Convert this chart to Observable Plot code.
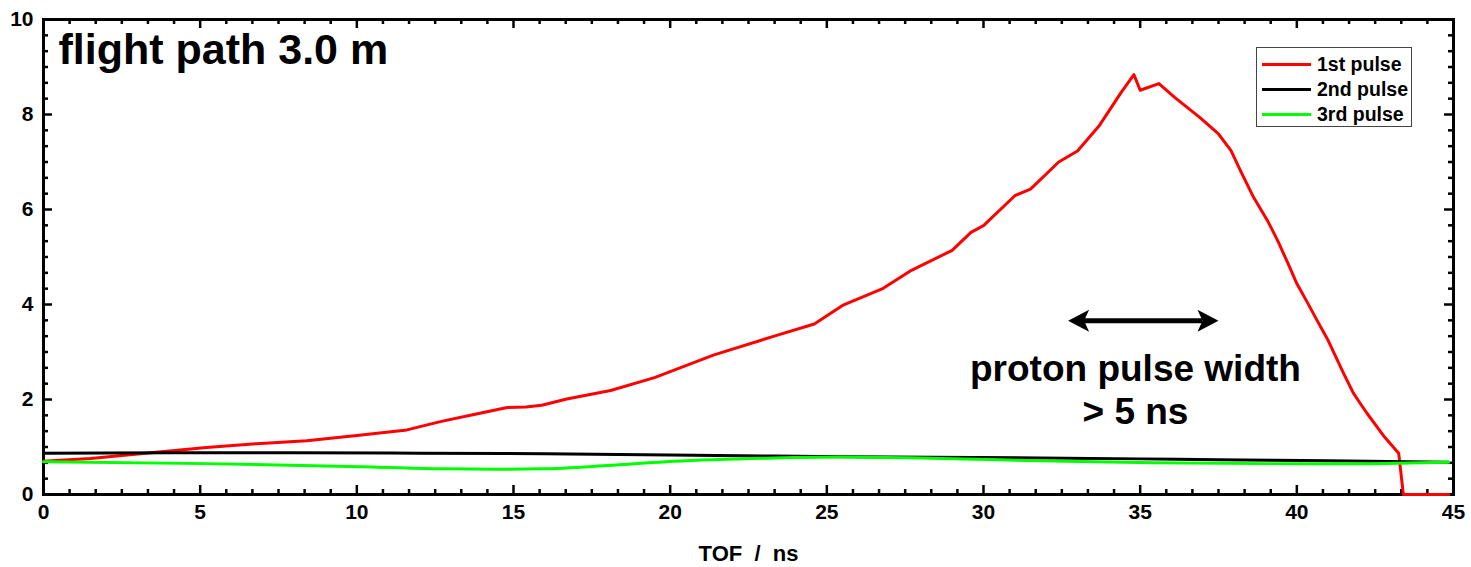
<!DOCTYPE html>
<html>
<head>
<meta charset="utf-8">
<script src="https://cdn.jsdelivr.net/npm/d3@7"></script>
<script src="https://cdn.jsdelivr.net/npm/@observablehq/plot@0.6"></script>
<style>
  body { margin: 0; background: #fff; }
  #wrap { position: relative; width: 1471px; height: 567px; font-family: "Liberation Sans", Arial, sans-serif; }
  #legend { position: absolute; left: 1256px; top: 47px; width: 156px; height: 80px; border: 1px solid #444; background: #fff; box-sizing: border-box; }
  .row { position: absolute; left: 0; height: 24px; display: flex; align-items: center; }
  .sw { width: 49px; height: 3px; margin-left: 5px; margin-right: 6px; }
  .lab { font-weight: bold; font-size: 19.5px; color: #000; white-space: nowrap; }
</style>
</head>
<body>
<div id="wrap"></div>
<script>
// ---- data ----
const seriesNames = ["1st pulse", "2nd pulse", "3rd pulse"];
const seriesColors = ["#ff0000", "#000000", "#00ff00"];

const t1 = [0, 1.5, 3.6, 5.2, 6.8, 8.4, 10.0, 11.6, 12.7, 13.7, 14.8, 15.4, 15.9, 16.7, 18.1, 19.5, 21.4, 23.4, 24.6, 25.5, 26.8, 27.7, 29.0, 29.6, 30.0, 31.0, 31.5, 32.4, 33.0, 33.7, 34.4, 34.8, 35.0, 35.6, 36.1, 36.9, 37.5, 37.9, 38.2, 38.6, 39.06, 39.4, 39.7, 40.0, 40.33, 40.65, 40.97, 41.2, 41.5, 41.8, 42.03, 42.25, 42.8, 43.25, 43.4, 44.85];
const v1 = [0.70, 0.76, 0.89, 0.99, 1.07, 1.13, 1.24, 1.36, 1.54, 1.68, 1.83, 1.84, 1.88, 2.01, 2.19, 2.46, 2.94, 3.35, 3.59, 3.98, 4.34, 4.72, 5.14, 5.52, 5.66, 6.29, 6.43, 7.00, 7.23, 7.77, 8.47, 8.84, 8.51, 8.65, 8.36, 7.94, 7.59, 7.24, 6.82, 6.28, 5.77, 5.33, 4.89, 4.44, 4.05, 3.66, 3.28, 2.96, 2.54, 2.14, 1.91, 1.70, 1.21, 0.87, 0, 0];

const t2 = [0, 4, 8, 12, 16, 20, 23.3, 27, 31.8, 35, 37.5, 41, 44.85];
const v2 = [0.87, 0.88, 0.88, 0.87, 0.86, 0.83, 0.81, 0.79, 0.77, 0.75, 0.73, 0.71, 0.68];

const t3 = [0, 5.2, 10.5, 12.7, 14.5, 15.9, 18, 20.1, 23.3, 25.4, 28.6, 31.8, 35.4, 39, 42, 44.85];
const v3 = [0.69, 0.65, 0.58, 0.54, 0.53, 0.54, 0.61, 0.70, 0.77, 0.79, 0.76, 0.71, 0.67, 0.65, 0.65, 0.68];

const xMajor = [0, 5, 10, 15, 20, 25, 30, 35, 40, 45];
const yMajor = [0, 2, 4, 6, 8, 10];
const xMinor = d3.range(0, 55).map(k => k * 5 / 6).filter((d, k) => k % 6 !== 0);
const yMinor = d3.range(0, 31).map(k => k / 3).filter((d, k) => k % 6 !== 0);

const titleText = "flight path 3.0 m";
const xLabel = "TOF \u00a0/\u00a0 ns";
const arrowX = [32.7, 37.5];
const arrowY = 3.66;
const noteLines = ["proton pulse width", "> 5 ns"];
const noteX = 34.85;
const noteY = [2.64, 1.74];

// ---- build ----
const mk = (t, v) => t.map((x, i) => ({x, y: v[i]}));
const d1 = mk(t1, v1), d2 = mk(t2, v2), d3s = mk(t3, v3);

const W = 1471, H = 567, mT = 19, mR = 18, mB = 73, mL = 43;
const innerW = W - mL - mR, innerH = H - mT - mB;
const FONT = "'Liberation Sans', Arial, sans-serif";

const headRight = { draw(ctx) { ctx.moveTo(0, 0); ctx.lineTo(-21, -11); ctx.lineTo(-16, 0); ctx.lineTo(-21, 11); ctx.closePath(); } };
const headLeft  = { draw(ctx) { ctx.moveTo(0, 0); ctx.lineTo(21, -11); ctx.lineTo(16, 0); ctx.lineTo(21, 11); ctx.closePath(); } };

const chart = Plot.plot({
  width: W, height: H,
  marginTop: mT, marginRight: mR, marginBottom: mB, marginLeft: mL,
  style: { fontFamily: FONT, background: "#fff" },
  x: { domain: [0, 45] },
  y: { domain: [0, 10] },
  marks: [
    // ticks (inward, all four sides)
    Plot.tickX(xMajor, { x: d => d, insetTop: innerH - 9, strokeWidth: 2.5 }),
    Plot.tickX(xMinor, { x: d => d, insetTop: innerH - 5, strokeWidth: 2.5 }),
    Plot.tickX(xMajor, { x: d => d, insetBottom: innerH - 9, strokeWidth: 2.5 }),
    Plot.tickX(xMinor, { x: d => d, insetBottom: innerH - 5, strokeWidth: 2.5 }),
    Plot.tickY(yMajor, { y: d => d, insetRight: innerW - 9, strokeWidth: 2.5 }),
    Plot.tickY(yMinor, { y: d => d, insetRight: innerW - 5, strokeWidth: 2.5 }),
    Plot.tickY(yMajor, { y: d => d, insetLeft: innerW - 9, strokeWidth: 2.5 }),
    Plot.tickY(yMinor, { y: d => d, insetLeft: innerW - 5, strokeWidth: 2.5 }),
    Plot.frame({ stroke: "#000", strokeWidth: 3 }),
    // data lines
    Plot.line(d1, { x: "x", y: "y", stroke: seriesColors[0], strokeWidth: 3, curve: "linear" }),
    Plot.line(d2, { x: "x", y: "y", stroke: seriesColors[1], strokeWidth: 3, curve: "monotone-x" }),
    Plot.line(d3s, { x: "x", y: "y", stroke: seriesColors[2], strokeWidth: 3, curve: "monotone-x" }),
    // tick labels
    Plot.axisX(xMajor, { tickSize: 0, tickPadding: 10, fontSize: 21, fontWeight: "bold", tickFormat: d => String(d), label: null }),
    Plot.axisY(yMajor, { tickSize: 0, tickPadding: 10, fontSize: 21, fontWeight: "bold", tickFormat: d => String(d), label: null }),
    // axis label
    Plot.text([xLabel], { text: d => d, frameAnchor: "bottom", dy: 59, fontSize: 22, fontWeight: "bold", lineAnchor: "middle" }),
    // title
    Plot.text([titleText], { text: d => d, frameAnchor: "top-left", dx: 15, dy: 14, textAnchor: "start", lineAnchor: "top", fontSize: 43, fontWeight: "bold" }),
    // arrow annotation
    Plot.ruleY([arrowY], { x1: arrowX[0] + 0.5, x2: arrowX[1] - 0.5, strokeWidth: 5, stroke: "#000" }),
    Plot.dot([arrowX[0]], { x: d => d, y: () => arrowY, symbol: headLeft, fill: "#000", stroke: "none", r: 10 }),
    Plot.dot([arrowX[1]], { x: d => d, y: () => arrowY, symbol: headRight, fill: "#000", stroke: "none", r: 10 }),
    Plot.text(noteLines, { x: () => noteX, y: (d, i) => noteY[i], text: d => d, fontSize: 37, fontWeight: "bold", textAnchor: "middle", lineAnchor: "middle" })
  ]
});

const wrap = document.getElementById("wrap");
wrap.appendChild(chart);

// legend
const legend = document.createElement("div");
legend.id = "legend";
seriesNames.forEach((name, i) => {
  const row = document.createElement("div");
  row.className = "row";
  row.style.top = (4 + i * 25) + "px";
  const sw = document.createElement("div");
  sw.className = "sw";
  sw.style.background = seriesColors[i];
  const lab = document.createElement("span");
  lab.className = "lab";
  lab.textContent = name;
  row.appendChild(sw); row.appendChild(lab);
  legend.appendChild(row);
});
wrap.appendChild(legend);
</script>
</body>
</html>
